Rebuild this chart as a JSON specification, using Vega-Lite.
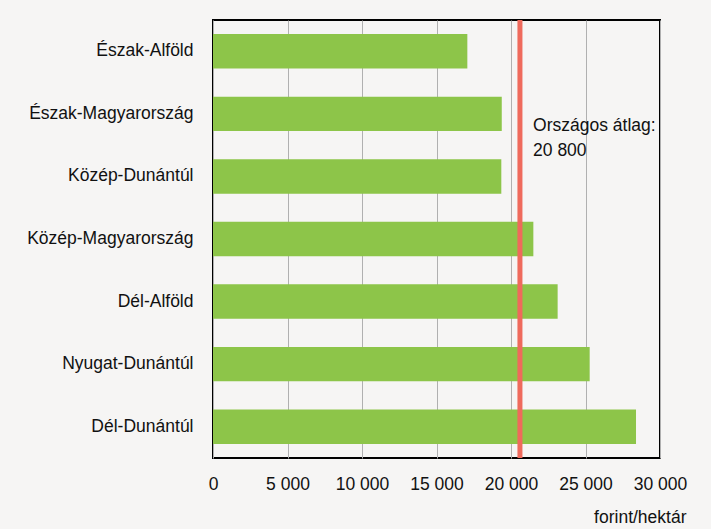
{
  "$schema": "https://vega.github.io/schema/vega-lite/v6.json",
  "width": 447,
  "height": 438,
  "autosize": {"type": "none"},
  "padding": {"left": 213, "top": 20, "right": 51, "bottom": 71},
  "background": "#f6f5f4",
  "config": {
    "view": {"stroke": "#000000", "strokeWidth": 2, "fill": "#f6f5f4"},
    "font": "Liberation Sans",
    "axis": {"labelFont": "Liberation Sans", "titleFont": "Liberation Sans", "labelColor": "#111111", "titleColor": "#111111"}
  },
  "datasets": {
    "regions": [
      {"region": "Észak-Alföld", "value": 17070},
      {"region": "Észak-Magyarország", "value": 19380},
      {"region": "Közép-Dunántúl", "value": 19350},
      {"region": "Közép-Magyarország", "value": 21500},
      {"region": "Dél-Alföld", "value": 23130},
      {"region": "Nyugat-Dunántúl", "value": 25280},
      {"region": "Dél-Dunántúl", "value": 28390}
    ],
    "avg": [
      {"value": 20600, "labelx": 21480, "region": "Észak-Magyarország", "label": "Országos átlag:|20 800"}
    ]
  },
  "layer": [
    {
      "data": {"name": "regions"},
      "mark": {"type": "bar", "color": "#8dc549"},
      "encoding": {
        "y": {
          "field": "region", "type": "nominal",
          "sort": ["Észak-Alföld", "Észak-Magyarország", "Közép-Dunántúl", "Közép-Magyarország", "Dél-Alföld", "Nyugat-Dunántúl", "Dél-Dunántúl"],
          "scale": {"paddingInner": 0.45, "paddingOuter": 0.225},
          "axis": {"title": null, "ticks": false, "domain": false, "labelFontSize": 17.5, "labelPadding": 20, "labelLimit": 300}
        },
        "x": {
          "field": "value", "type": "quantitative",
          "scale": {"domain": [0, 30000], "nice": false},
          "axis": {
            "values": [0, 5000, 10000, 15000, 20000, 25000, 30000],
            "labelExpr": "replace(format(datum.value, ','), ',', ' ')",
            "labelOverlap": false, "labelFlush": false,
            "ticks": false, "domain": false,
            "grid": true, "gridColor": "#b0b0b0", "gridWidth": 1,
            "labelFontSize": 17.5, "labelPadding": 17,
            "title": "forint/hektár", "titleFontSize": 17.5, "titleFontWeight": "normal",
            "titleAnchor": "end", "titleAlign": "right", "titleX": 473, "titleY": 64, "titleBaseline": "alphabetic"
          }
        }
      }
    },
    {
      "data": {"name": "avg"},
      "mark": {"type": "rule", "color": "#ef6a5c", "strokeWidth": 5},
      "encoding": {"x": {"field": "value", "type": "quantitative"}}
    },
    {
      "data": {"name": "avg"},
      "transform": [{"calculate": "split(datum.label, '|')", "as": "lines"}],
      "mark": {"type": "text", "align": "left", "baseline": "alphabetic", "fontSize": 17.5, "dy": 17, "lineHeight": 25, "color": "#111111"},
      "encoding": {
        "x": {"field": "labelx", "type": "quantitative"},
        "y": {"field": "region", "type": "nominal", "sort": ["Észak-Alföld", "Észak-Magyarország", "Közép-Dunántúl", "Közép-Magyarország", "Dél-Alföld", "Nyugat-Dunántúl", "Dél-Dunántúl"]},
        "text": {"field": "lines"}
      }
    }
  ]
}
